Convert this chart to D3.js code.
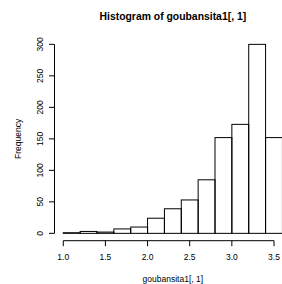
<!DOCTYPE html>
<html><head><meta charset="utf-8">
<script src="https://cdn.jsdelivr.net/npm/d3@7"></script>
<style>body{margin:0;background:#fff}svg{display:block}</style>
</head><body>
<script>
const breaks = [1.0,1.2,1.4,1.6,1.8,2.0,2.2,2.4,2.6,2.8,3.0,3.2,3.4,3.6];
const counts = [1,3,2,7,10,24,39,53,85,152,173,300,152];
const xTicks = [1.0,1.5,2.0,2.5,3.0,3.5];
const yTicks = [0,50,100,150,200,250,300];
const title = "Histogram of goubansita1[, 1]";
const xlab = "goubansita1[, 1]";
const ylab = "Frequency";

const W = 282, H = 284;
const svg = d3.select("body").append("svg").attr("width", W).attr("height", H);
const font = "'Liberation Sans', Arial, Helvetica, sans-serif";

// R-style plot region with 4% axis extension
const xr = [breaks[0], breaks[breaks.length-1]];
const xpad = (xr[1]-xr[0])*0.04;
const x = d3.scaleLinear().domain([xr[0]-xpad, xr[1]+xpad]).range([54.5, 291.2]);
const ymax = d3.max(counts);
const y = d3.scaleLinear().domain([-ymax*0.04, ymax*1.04]).range([240.9, 36.8]);

const bars = counts.map((c,i)=>({x0:breaks[i], x1:breaks[i+1], c}));
svg.append("g").selectAll("rect").data(bars).join("rect")
  .attr("x", d=>x(d.x0)).attr("width", d=>x(d.x1)-x(d.x0))
  .attr("y", d=>y(d.c)).attr("height", d=>y(0)-y(d.c))
  .attr("fill","none").attr("stroke","#000").attr("stroke-width",1);

// x axis
const xAxisY = 240.7;
const gx = svg.append("g").attr("transform",`translate(0,${xAxisY})`);
gx.append("line").attr("x1",x(xTicks[0])).attr("x2",x(xTicks[xTicks.length-1]))
  .attr("stroke","#000");
gx.selectAll(".t").data(xTicks).join("line").attr("x1",d=>x(d)).attr("x2",d=>x(d))
  .attr("y1",0).attr("y2",5.5).attr("stroke","#000");
gx.selectAll("text").data(xTicks).join("text").attr("x",d=>x(d)).attr("y",19)
  .attr("text-anchor","middle").attr("font-family",font).attr("font-size",8.5)
  .text(d=>d.toFixed(1));

// y axis
const yAxisX = 54.5;
const gy = svg.append("g").attr("transform",`translate(${yAxisX},0)`);
gy.append("line").attr("y1",y(yTicks[0])).attr("y2",y(yTicks[yTicks.length-1])).attr("stroke","#000");
gy.selectAll(".t").data(yTicks).join("line").attr("y1",d=>y(d)).attr("y2",d=>y(d))
  .attr("x1",0).attr("x2",-5.5).attr("stroke","#000");
gy.selectAll("text").data(yTicks).join("text")
  .attr("transform",d=>`translate(-12,${y(d)}) rotate(-90)`)
  .attr("text-anchor","middle").attr("font-family",font).attr("font-size",8.5)
  .text(d=>d);

const cx = (x.range()[0]+x.range()[1])/2;
const cy = (y.range()[0]+y.range()[1])/2;
svg.append("text").attr("x",cx).attr("y",19.5).attr("text-anchor","middle")
  .attr("font-family",font).attr("font-size",10.4).attr("font-weight","bold").text(title);
svg.append("text").attr("x",cx).attr("y",281.5).attr("text-anchor","middle")
  .attr("font-family",font).attr("font-size",8.5).text(xlab);
svg.append("text").attr("transform",`translate(21,${cy}) rotate(-90)`).attr("text-anchor","middle")
  .attr("font-family",font).attr("font-size",8.5).text(ylab);
</script>
</body></html>
